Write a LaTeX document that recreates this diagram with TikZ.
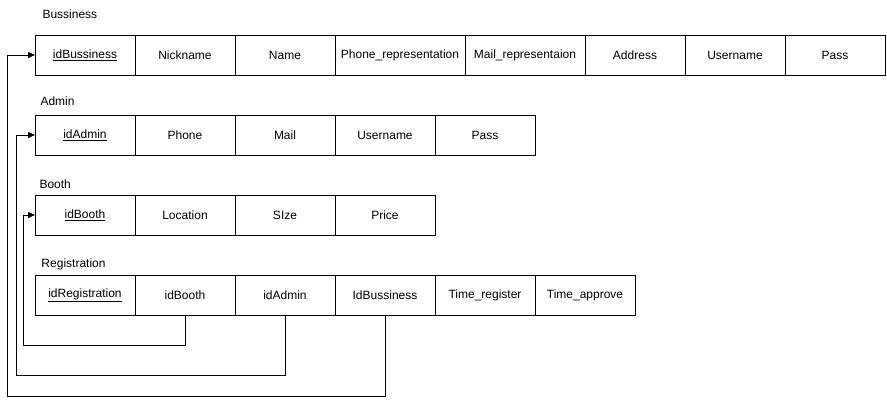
\documentclass[tikz,border=0pt]{standalone}
\usepackage{fontspec}
\setmainfont{Liberation Sans}
\usetikzlibrary{positioning,arrows.meta}
\tikzset{
	cell/.style={draw, minimum width=100pt, minimum height=40pt, inner sep=0pt, outer sep=0pt, font=\fontsize{12}{14}\selectfont},
	tabname/.style={anchor=west, inner sep=0pt, font=\fontsize{12}{14}\selectfont},
	fkline/.style={-{Triangle[length=7pt,width=6pt]}}
}
\begin{document}
\begin{tikzpicture}[x=1pt, y=-1pt, line width=1pt]
	\useasboundingbox (0,0) rectangle (887,405);
	% Bussiness
	\node[tabname] (bname) at (42,14) {Bussiness};
	\node[cell] (b1) at (85,55) {\underline{idBussiness}};
	\node[cell, right=0pt of b1] (b2) {Nickname};
	\node[cell, right=0pt of b2] (b3) {Name};
	\node[cell, right=0pt of b3, minimum width=130pt] (b4) {Phone\_representation};
	\node[cell, right=0pt of b4, minimum width=120pt] (b5) {Mail\_representaion};
	\node[cell, right=0pt of b5] (b6) {Address};
	\node[cell, right=0pt of b6] (b7) {Username};
	\node[cell, right=0pt of b7] (b8) {Pass};
	% Admin
	\node[tabname] (aname) at (40,101) {Admin};
	\node[cell] (a1) at (85,135) {\underline{idAdmin}};
	\node[cell, right=0pt of a1] (a2) {Phone};
	\node[cell, right=0pt of a2] (a3) {Mail};
	\node[cell, right=0pt of a3] (a4) {Username};
	\node[cell, right=0pt of a4] (a5) {Pass};
	% Booth
	\node[tabname] (tname) at (39,184) {Booth};
	\node[cell] (t1) at (85,215) {\underline{idBooth}};
	\node[cell, right=0pt of t1] (t2) {Location};
	\node[cell, right=0pt of t2] (t3) {SIze};
	\node[cell, right=0pt of t3] (t4) {Price};
	% Registration
	\node[tabname] (rname) at (41,264) {Registration};
	\node[cell] (r1) at (85,295) {\underline{idRegistration}};
	\node[cell, right=0pt of r1] (r2) {idBooth};
	\node[cell, right=0pt of r2] (r3) {idAdmin};
	\node[cell, right=0pt of r3] (r4) {IdBussiness};
	\node[cell, right=0pt of r4] (r5) {Time\_register};
	\node[cell, right=0pt of r5] (r6) {Time\_approve};
	% foreign keys
	\coordinate (boothbend) at (23,345);
	\coordinate (adminbend) at (16,375);
	\coordinate (bussbend)  at (7,396);
	\draw[fkline] (r2.south) |- (boothbend) |- (t1.west);
	\draw[fkline] (r3.south) |- (adminbend) |- (a1.west);
	\draw[fkline] (r4.south) |- (bussbend)  |- (b1.west);
\end{tikzpicture}
\end{document}
